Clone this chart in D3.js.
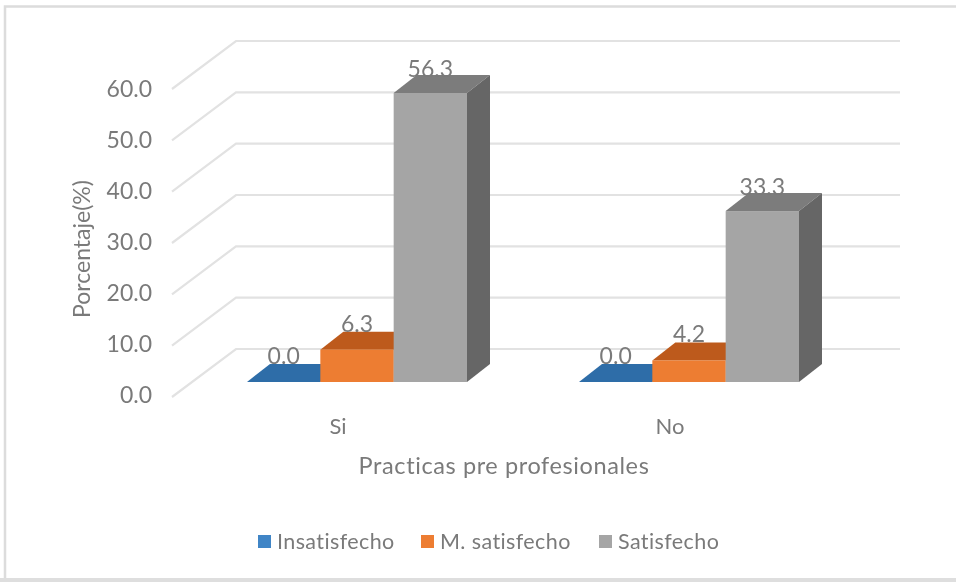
<!DOCTYPE html>
<html><head><meta charset="utf-8">
<script src="https://cdn.jsdelivr.net/npm/d3@7/dist/d3.min.js"></script>
<style>html,body{margin:0;padding:0;background:#fff}svg{display:block}text{font-family:Lato,"Open Sans",sans-serif;fill:#7a7a7a}</style>
</head><body><div id="c"></div>
<script>
const categories = ["Si", "No"];
const seriesNames = ["Insatisfecho", "M. satisfecho", "Satisfecho"];
const insatisfecho = [0.0, 0.0];
const mSatisfecho = [6.3, 4.2];
const satisfecho = [56.3, 33.3];
const tickValues = [0, 10, 20, 30, 40, 50, 60];
const frontColors = ["#2e75b6", "#ed7d31", "#a5a5a5"];
const topColors = ["#2e6da8", "#bd5a1b", "#7b7b7b"];
const sideColors = ["#255a8a", "#a04d16", "#666666"];
const seriesValues = [insatisfecho, mSatisfecho, satisfecho];

const W = 956, H = 582;
const svg = d3.select("#c").append("svg").attr("width", W).attr("height", H);
const defs = svg.append("defs");
defs.append("filter").attr("id", "soft").append("feGaussianBlur").attr("stdDeviation", 0.7);
const root = svg.append("g").attr("filter", "url(#soft)");

// frame
root.append("rect").attr("x", 0).attr("y", 0).attr("width", W).attr("height", H).attr("fill", "#fff");
root.append("path").attr("d", `M5,${H} V6.5 H${W}`).attr("fill", "none").attr("stroke", "#dcdcdc").attr("stroke-width", 2.5);
root.append("rect").attr("x", 0).attr("y", 578).attr("width", W).attr("height", 4).attr("fill", "#dedede");

const y = d3.scaleLinear().domain([0, 60]).range([0, 308]);
const floorFront = 397, frontLeft = 172, wallDx = 64, wallDy = 48, wallRight = 900;
const barBase = 382, depthX = 23, depthY = 18;

const x0 = d3.scaleBand().domain(categories).range([191, 855]).paddingInner(0).paddingOuter(0);
const x1 = d3.scaleBand().domain(seriesNames).range([-110, 110]);
const labelX = d3.scaleBand().domain(categories).range([frontLeft, frontLeft + 664]);

// gridlines and wall diagonals
root.append("g").selectAll("path").data(tickValues).join("path")
  .attr("d", t => {
    const yf = floorFront - y(t);
    return `M${frontLeft},${yf} L${frontLeft + wallDx},${yf - wallDy} H${wallRight}`;
  })
  .attr("fill", "none").attr("stroke", "#e2e2e2").attr("stroke-width", 2.2);

// y tick labels
root.append("g").selectAll("text").data(tickValues).join("text")
  .attr("x", 152).attr("y", t => floorFront - y(t) + 5 + (t / 60) * 2 + 1)
  .attr("text-anchor", "end").attr("font-size", 23)
  .text(t => d3.format(".1f")(t));

// bars
categories.forEach((cat, ci) => {
  const g = root.append("g");
  seriesNames.forEach((s, si) => {
    const v = seriesValues[si][ci];
    const xa = x0(cat) + x0.bandwidth() / 2 + x1(s);
    const xb = xa + x1.bandwidth();
    const yt = barBase - y(v);
    g.append("polygon").attr("fill", topColors[si])
      .attr("points", [[xa, yt], [xa + depthX, yt - depthY], [xb + depthX, yt - depthY], [xb, yt]].join(" "));
    g.append("polygon").attr("fill", sideColors[si])
      .attr("points", [[xb, yt], [xb + depthX, yt - depthY], [xb + depthX, barBase - depthY], [xb, barBase]].join(" "));
    g.append("rect").attr("x", xa).attr("y", yt).attr("width", x1.bandwidth()).attr("height", y(v)).attr("fill", frontColors[si]);
  });
  seriesNames.forEach((s, si) => {
    const v = seriesValues[si][ci];
    const xc = x0(cat) + x0.bandwidth() / 2 + x1(s) + x1.bandwidth() / 2;
    root.append("text").attr("x", xc).attr("y", barBase - y(v) - 16 - (v < 10 ? 2 : 0))
      .attr("text-anchor", "middle").attr("font-size", 23).text(d3.format(".1f")(v));
  });
});

// category labels
root.append("g").selectAll("text").data(categories).join("text")
  .attr("x", c => labelX(c) + labelX.bandwidth() / 2).attr("y", 434)
  .attr("text-anchor", "middle").attr("font-size", 22).text(c => c);

// axis titles
root.append("text").attr("x", 504).attr("y", 474).attr("text-anchor", "middle")
  .attr("font-size", 23.5).attr("letter-spacing", 0.6).text("Practicas pre profesionales");
root.append("text").attr("transform", "translate(90,249) rotate(-90)").attr("text-anchor", "middle")
  .attr("font-size", 23).text("Porcentaje(%)");

// legend
const legX = d3.scaleOrdinal().domain(seriesNames).range([258, 421, 599]);
const leg = root.append("g").selectAll("g").data(seriesNames).join("g")
  .attr("transform", s => `translate(${legX(s)},535)`);
leg.append("rect").attr("width", 13).attr("height", 13).attr("fill", (s, i) => i === 0 ? "#3f85c6" : frontColors[i]);
leg.append("text").attr("x", 19).attr("y", 14).attr("font-size", 21.5).attr("letter-spacing", 0.4).text(s => s);
</script></body></html>
